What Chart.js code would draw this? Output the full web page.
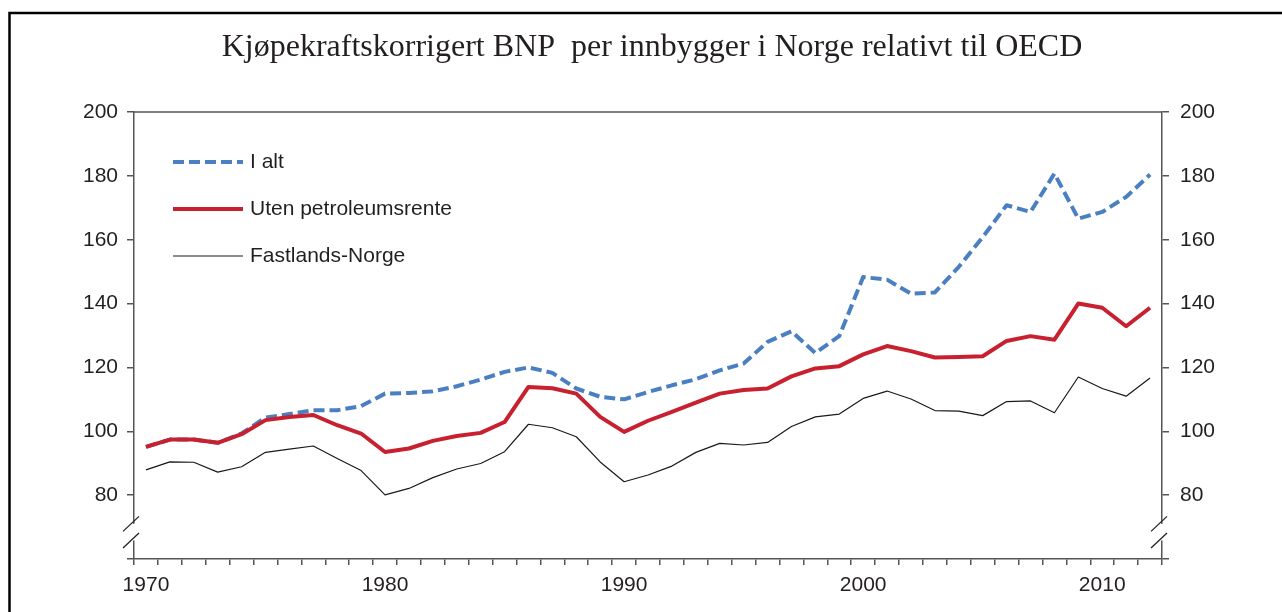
<!DOCTYPE html>
<html>
<head>
<meta charset="utf-8">
<script src="https://cdn.jsdelivr.net/npm/chart.js@4"></script>
<style>
  html, body { margin: 0; padding: 0; background: #fff; }
  #wrap { width: 1282px; height: 612px; }
</style>
</head>
<body>
<div id="wrap"><canvas id="bnpChart" width="1282" height="612"></canvas></div>
<script>
// årstall
const years = ['1970','1971','1972','1973','1974','1975','1976','1977','1978','1979',
               '1980','1981','1982','1983','1984','1985','1986','1987','1988','1989',
               '1990','1991','1992','1993','1994','1995','1996','1997','1998','1999',
               '2000','2001','2002','2003','2004','2005','2006','2007','2008','2009',
               '2010','2011','2012'];

// I alt
const iAlt = [95.1, 97.4, 97.4, 96.4, 99.3, 104.3, 105.4, 106.6, 106.6, 107.9,
              111.8, 112.0, 112.5, 114.1, 116.2, 118.6, 120.0, 118.3, 113.4, 110.8,
              110.0, 112.3, 114.4, 116.3, 119.1, 121.2, 128.0, 131.3, 124.5, 129.8,
              148.3, 147.5, 143.1, 143.5, 151.5, 160.8, 170.8, 168.7, 180.7, 166.6,
              168.7, 173.4, 180.4];

// Uten petroleumsrente
const utenPetro = [95.1, 97.4, 97.4, 96.4, 99.1, 103.5, 104.5, 105.1, 101.9, 99.3,
                   93.5, 94.6, 97.0, 98.5, 99.5, 102.9, 113.9, 113.5, 111.8, 104.5,
                   99.8, 103.3, 106.1, 109.0, 111.8, 112.9, 113.4, 117.2, 119.7, 120.4,
                   124.1, 126.7, 125.1, 123.1, 123.3, 123.5, 128.3, 129.8, 128.7, 140.0,
                   138.7, 132.9, 138.7];

// Fastlands-Norge
const fastland = [87.9, 90.4, 90.3, 87.2, 88.9, 93.4, 94.4, 95.4, 91.5, 87.7,
                  80.1, 82.1, 85.5, 88.2, 89.9, 93.6, 102.2, 101.1, 98.3, 90.4,
                  84.2, 86.3, 89.1, 93.4, 96.2, 95.7, 96.5, 101.5, 104.5, 105.4,
                  110.3, 112.6, 110.1, 106.5, 106.3, 104.9, 109.3, 109.5, 105.8, 117.0,
                  113.4, 111.0, 116.7];

const yTicks = [60, 80, 100, 120, 140, 160, 180, 200];

const titleText = 'Kjøpekraftskorrigert BNP  per innbygger i Norge relativt til OECD';
const axisColor = '#555555';
const textColor = '#231f20';
const tickFont = { family: "'Liberation Sans', Arial, sans-serif", size: 21 };

// tittel, ramme, topplinje, brudd og legende
const decorPlugin = {
    id: 'decor',
    afterDraw(chart) {
        const ctx = chart.ctx;
        const area = chart.chartArea;
        ctx.save();

        // ramme
        ctx.strokeStyle = '#000';
        ctx.lineWidth = 2.5;
        ctx.beginPath();
        ctx.moveTo(9.5, 612);
        ctx.lineTo(9.5, 13);
        ctx.lineTo(1282, 13);
        ctx.stroke();

        // tittel
        ctx.fillStyle = textColor;
        ctx.font = "32px 'Liberation Serif', 'Times New Roman', serif";
        ctx.textAlign = 'center';
        ctx.textBaseline = 'middle';
        ctx.fillText(titleText, 652, 48);

        // topplinje
        ctx.strokeStyle = axisColor;
        ctx.lineWidth = 1.5;
        ctx.beginPath();
        ctx.moveTo(area.left, area.top);
        ctx.lineTo(area.right, area.top);
        ctx.stroke();

        // brudd i y-aksene
        const yS = chart.scales.y;
        const yA = yS.getPixelForValue(71);
        const yB = yS.getPixelForValue(65.8);
        [area.left, area.right].forEach(x => {
            ctx.fillStyle = '#fff';
            ctx.fillRect(x - 2, yA, 4, yB - yA);
            ctx.strokeStyle = '#222';
            ctx.lineWidth = 1.3;
            [yA, yB].forEach(y => {
                ctx.beginPath();
                ctx.moveTo(x - 11, y + 7.5);
                ctx.lineTo(x + 5, y - 7.5);
                ctx.stroke();
            });
        });

        // legende
        const items = [
            { ds: chart.data.datasets[1], y: 162 },
            { ds: chart.data.datasets[0], y: 209 },
            { ds: chart.data.datasets[2], y: 256 }
        ];
        items.forEach(it => {
            ctx.strokeStyle = it.ds.borderColor;
            ctx.lineWidth = it.ds.borderWidth;
            ctx.setLineDash(it.ds.borderDash || []);
            ctx.beginPath();
            ctx.moveTo(173, it.y);
            ctx.lineTo(243, it.y);
            ctx.stroke();
            ctx.setLineDash([]);
            ctx.fillStyle = textColor;
            ctx.font = "21px 'Liberation Sans', Arial, sans-serif";
            ctx.textAlign = 'left';
            ctx.textBaseline = 'middle';
            ctx.fillText(it.ds.label, 250, it.y);
        });

        ctx.restore();
    }
};

const ctx = document.getElementById('bnpChart').getContext('2d');
new Chart(ctx, {
    type: 'line',
    data: {
        labels: years,
        datasets: [
            {
                label: 'Uten petroleumsrente',
                data: utenPetro,
                borderColor: '#c8202e',
                borderWidth: 4,
                order: 0
            },
            {
                label: 'I alt',
                data: iAlt,
                borderColor: '#4a7fc1',
                borderWidth: 4,
                borderDash: [11, 5],
                order: 1
            },
            {
                label: 'Fastlands-Norge',
                data: fastland,
                borderColor: '#1a1a1a',
                borderWidth: 1.2,
                order: 2
            }
        ]
    },
    options: {
        responsive: false,
        animation: false,
        events: [],
        elements: {
            point: { radius: 0 },
            line: { tension: 0, borderJoinStyle: 'round' }
        },
        layout: { padding: { top: 112, left: 0, right: 0, bottom: 0 } },
        plugins: {
            legend: { display: false },
            title: { display: false },
            tooltip: { enabled: false }
        },
        scales: {
            x: {
                type: 'category',
                offset: true,
                afterFit(s) { s.height = 53; },
                grid: {
                    offset: true,
                    drawOnChartArea: false,
                    color: axisColor,
                    lineWidth: 1.5,
                    tickLength: 6
                },
                border: { color: axisColor, width: 1.5 },
                ticks: {
                    autoSkip: false,
                    maxRotation: 0,
                    padding: 8,
                    color: textColor,
                    font: tickFont,
                    callback(val) {
                        const lab = this.getLabelForValue(val);
                        return Number(lab) % 10 === 0 ? lab : '';
                    }
                }
            },
            y: {
                position: 'left',
                min: 60,
                max: 200,
                afterFit(s) { s.width = 134; },
                afterBuildTicks(s) { s.ticks = yTicks.map(v => ({ value: v })); },
                grid: {
                    drawOnChartArea: false,
                    color: axisColor,
                    lineWidth: 1.5,
                    tickLength: 7
                },
                border: { color: axisColor, width: 1.5 },
                ticks: {
                    padding: 9,
                    color: textColor,
                    font: tickFont,
                    callback: v => (v === 60 ? '' : v)
                }
            },
            y2: {
                position: 'right',
                min: 60,
                max: 200,
                afterFit(s) { s.width = 120; },
                afterBuildTicks(s) { s.ticks = yTicks.map(v => ({ value: v })); },
                grid: {
                    drawOnChartArea: false,
                    color: axisColor,
                    lineWidth: 1.5,
                    tickLength: 7
                },
                border: { color: axisColor, width: 1.5 },
                ticks: {
                    padding: 11,
                    color: textColor,
                    font: tickFont,
                    callback: v => (v === 60 ? '' : v)
                }
            }
        }
    },
    plugins: [decorPlugin]
});
</script>
</body>
</html>
